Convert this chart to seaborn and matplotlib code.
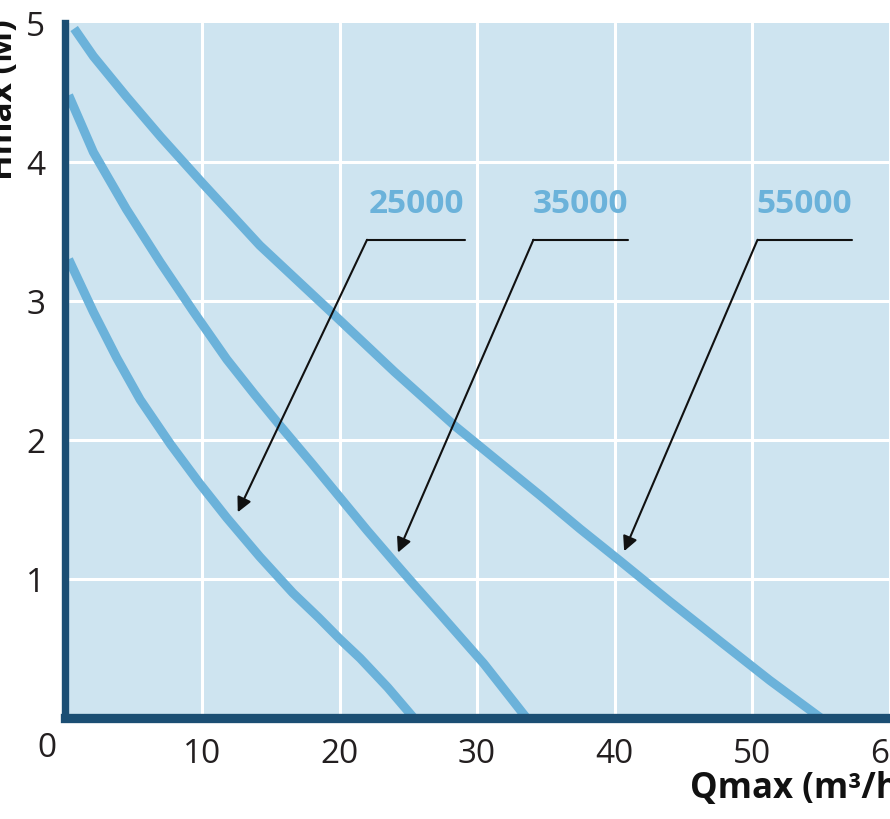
import matplotlib
matplotlib.use("Agg")
import pandas as pd
import matplotlib.pyplot as plt
import seaborn as sns

# Curvas de bomba (Q em m3/h, H em m)
q_25000 = [0.3, 2.1, 3.8, 5.5, 7.7, 9.8, 11.8, 14.2, 16.6, 18.5, 20.0, 21.5, 23.5, 25.4]
h_25000 = [3.30, 2.92, 2.59, 2.29, 1.97, 1.69, 1.44, 1.16, 0.90, 0.72, 0.57, 0.43, 0.22, 0.0]

q_35000 = [0.3, 2.1, 4.5, 6.95, 9.4, 11.8, 13.8, 15.7, 18.0, 20.0, 22.0, 24.0, 25.5, 27.3, 30.5, 33.6]
h_35000 = [4.48, 4.07, 3.66, 3.28, 2.92, 2.58, 2.33, 2.10, 1.83, 1.59, 1.35, 1.12, 0.95, 0.75, 0.39, 0.0]

q_55000 = [0.7, 2.1, 4.5, 7.0, 10.1, 14.2, 19.5, 24.0, 28.4, 31.5, 34.6, 37.5, 40.4, 44.0, 47.7, 51.3, 55.0]
h_55000 = [4.96, 4.76, 4.47, 4.18, 3.84, 3.40, 2.91, 2.49, 2.10, 1.85, 1.60, 1.36, 1.13, 0.84, 0.55, 0.27, 0.0]

modelos = ["25000", "35000", "55000"]

# Anotações: rótulo, cotovelo da linha guia, fim da linha horizontal e ponta da seta
label_x = [25.6, 37.5, 53.8]
label_y = 3.70
guia_x0 = [22.0, 34.1, 50.4]
guia_x1 = [29.1, 41.0, 57.3]
guia_y = 3.44
seta_x = [12.6, 24.25, 40.7]
seta_y = [1.48, 1.19, 1.20]

df = pd.concat([
    pd.DataFrame({"Q": q_25000, "H": h_25000, "modelo": "25000"}),
    pd.DataFrame({"Q": q_35000, "H": h_35000, "modelo": "35000"}),
    pd.DataFrame({"Q": q_55000, "H": h_55000, "modelo": "55000"}),
])

azul = "#6bb2da"
fundo = "#cee4f0"
eixo = "#1b4e73"
texto = "#231f20"

sns.set_theme(style="whitegrid")
plt.rcParams["font.family"] = ["Open Sans", "DejaVu Sans"]

fig = plt.figure(figsize=(8.9, 8.2), dpi=100)
ax = fig.add_axes([0.0725, 0.1232, 0.9424, 0.8476])
ax.set_facecolor(fundo)

sns.lineplot(
    data=df, x="Q", y="H", hue="modelo", palette=[azul] * 3,
    sort=False, estimator=None, lw=6.5, legend=False, ax=ax,
    solid_capstyle="butt", solid_joinstyle="round", zorder=3
)

ax.set_xlim(0, 61)
ax.set_ylim(0, 5.0)
ax.set_xticks([10, 20, 30, 40, 50, 60])
ax.set_yticks([1, 2, 3, 4, 5])
ax.grid(True, color="white", lw=2.2)
ax.set_axisbelow(True)
ax.get_ygridlines()[-1].set_visible(False)
ax.set_xlabel("")
ax.set_ylabel("")

for s in ["top", "right"]:
    ax.spines[s].set_visible(False)
ax.spines["left"].set_color(eixo)
ax.spines["left"].set_linewidth(5.3)
ax.spines["bottom"].set_color(eixo)
ax.spines["bottom"].set_linewidth(6.7)
ax.spines["left"].set_zorder(4)
ax.spines["bottom"].set_zorder(4)

ax.tick_params(length=0, labelsize=24, colors=texto, pad=14)

# "0" compartilhado no canto
ax.annotate("0", xy=(0, 0), xytext=(-12.6, -21.6), textcoords="offset points",
            ha="center", va="center", fontsize=24, color=texto,
            annotation_clip=False)

# Rótulos e setas
for i, m in enumerate(modelos):
    ax.text(label_x[i], label_y, m, ha="center", va="center",
            fontsize=24, fontweight="bold", color=azul, zorder=5)
    ax.plot([guia_x0[i], guia_x1[i]], [guia_y, guia_y], color="#111111", lw=1.5, zorder=5)
    ax.annotate("", xy=(seta_x[i], seta_y[i]), xytext=(guia_x0[i], guia_y),
                arrowprops=dict(arrowstyle="-|>", color="#111111", lw=1.5,
                                mutation_scale=22, shrinkA=0, shrinkB=0),
                zorder=5)

# Títulos dos eixos
fig.text(20 / 890, 1 - 180 / 820, "Hmax (M)", rotation=90, ha="right", va="bottom",
         fontsize=24, fontweight="bold", color="#111111")
fig.text(690 / 890, 1 - 798 / 820, "Qmax (m³/h)", ha="left", va="baseline",
         fontsize=25, fontweight="bold", color="#111111")

fig.savefig("out.png", dpi=100)
